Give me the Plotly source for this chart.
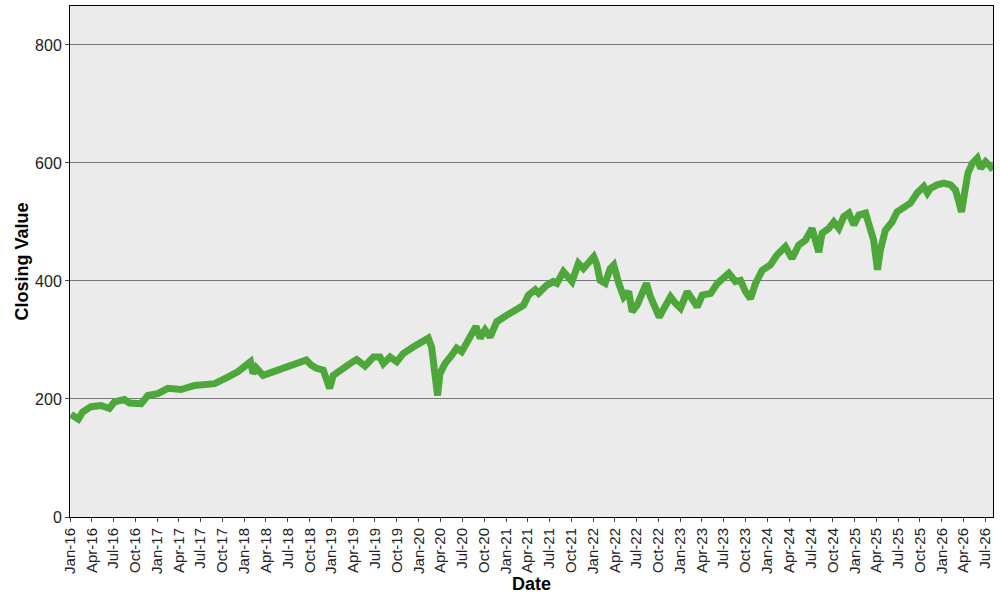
import plotly.graph_objects as go

# closing values
dates = [
    "2016-01-05", "2016-02-05", "2016-02-23", "2016-03-29", "2016-05-10", "2016-06-14",
    "2016-07-05", "2016-08-16", "2016-09-06", "2016-10-25", "2016-11-22", "2017-01-03",
    "2017-02-14", "2017-04-10", "2017-06-06", "2017-07-31", "2017-08-29", "2017-10-23",
    "2017-12-04", "2018-01-26", "2018-02-06", "2018-02-19", "2018-03-20", "2018-04-30",
    "2018-06-11", "2018-07-23", "2018-09-17", "2018-10-09", "2018-10-30", "2018-11-27",
    "2018-12-11", "2018-12-24", "2019-01-08", "2019-02-05", "2019-03-19", "2019-04-16",
    "2019-05-21", "2019-06-25", "2019-07-23", "2019-08-06", "2019-09-03", "2019-10-01",
    "2019-10-28", "2019-12-09", "2020-01-06", "2020-02-10", "2020-02-24", "2020-03-05",
    "2020-03-20", "2020-03-30", "2020-04-20", "2020-05-18", "2020-06-08", "2020-06-29",
    "2020-08-03", "2020-08-28", "2020-09-14", "2020-10-05", "2020-10-26", "2020-11-23",
    "2021-01-04", "2021-02-15", "2021-03-15", "2021-04-05", "2021-05-03", "2021-05-17",
    "2021-06-21", "2021-07-18", "2021-08-02", "2021-08-29", "2021-10-04", "2021-10-31",
    "2021-11-21", "2022-01-03", "2022-01-16", "2022-01-30", "2022-02-20", "2022-03-13",
    "2022-03-28", "2022-04-18", "2022-05-09", "2022-05-30", "2022-06-13", "2022-07-04",
    "2022-07-25", "2022-08-12", "2022-08-29", "2022-09-19", "2022-10-05", "2022-10-17",
    "2022-11-21", "2022-12-12", "2023-01-02", "2023-01-30", "2023-02-20", "2023-03-13",
    "2023-04-03", "2023-05-08", "2023-06-05", "2023-07-02", "2023-07-23", "2023-08-20",
    "2023-09-10", "2023-10-01", "2023-10-22", "2023-11-12", "2023-12-10", "2024-01-13",
    "2024-02-10", "2024-03-16", "2024-04-13", "2024-05-11", "2024-06-08", "2024-07-06",
    "2024-07-20", "2024-08-03", "2024-08-17", "2024-09-14", "2024-10-05", "2024-10-26",
    "2024-11-16", "2024-12-07", "2024-12-28", "2025-01-18", "2025-02-15", "2025-03-08",
    "2025-03-21", "2025-04-06", "2025-04-18", "2025-05-09", "2025-06-06", "2025-06-27",
    "2025-07-25", "2025-08-22", "2025-09-19", "2025-10-17", "2025-11-01", "2025-11-14",
    "2025-12-12", "2026-01-09", "2026-02-06", "2026-02-27", "2026-03-13", "2026-03-24",
    "2026-04-06", "2026-04-20", "2026-05-08", "2026-05-29", "2026-06-12", "2026-07-03",
    "2026-07-24", "2026-08-03",
]
closing = [
    174, 166, 178, 187, 189, 184,
    195, 199, 193, 192, 206, 209,
    218, 216, 223, 226, 226, 237,
    246, 263, 243, 253, 240, 246,
    252, 257, 266, 257, 252, 249,
    235, 218, 240, 249, 260, 267,
    256, 271, 271, 260, 271, 263,
    277, 288, 294, 303, 288, 243,
    206, 243, 260, 274, 286, 280,
    305, 323, 303, 317, 305, 331,
    342, 353, 359, 376, 385, 379,
    393, 399, 396, 416, 399, 430,
    421, 441, 428, 401, 396, 421,
    427, 396, 373, 382, 348, 359,
    382, 396, 373, 356, 339, 348,
    373, 362, 354, 382, 370, 356,
    376, 379, 396, 407, 413, 399,
    401, 382, 370, 396, 418, 427,
    444, 458, 438, 461, 469, 489,
    469, 449, 481, 489, 500, 489,
    509, 515, 495, 512, 515, 486,
    469, 419, 452, 486, 500, 517,
    523, 532, 549, 560, 549, 557,
    563, 566, 563, 554, 534, 517,
    549, 583, 599, 608, 591, 602,
    594, 588,
]

y_ticks = [0, 200, 400, 600, 800]

fig = go.Figure()
fig.add_trace(
    go.Scatter(
        x=dates,
        y=closing,
        mode="lines",
        line=dict(color="#4ea73a", width=7),
        hovertemplate="%{x|%d %b %Y}<br>%{y}<extra></extra>",
        showlegend=False,
    )
)

font_family = "Liberation Sans, Arial, sans-serif"
title_font = dict(family=font_family, size=18, color="#000")

fig.update_layout(
    width=1000,
    height=600,
    margin=dict(l=70, r=7, t=6, b=83),
    paper_bgcolor="white",
    plot_bgcolor="#ebebeb",
    xaxis=dict(
        title=dict(text="<b>Date</b>", font=title_font, standoff=3),
        type="date",
        range=["2016-01-01", "2026-08-03"],
        dtick="M3",
        tick0="2016-01-01",
        tickformat="%b-%y",
        tickangle=-90,
        tickfont=dict(family=font_family, size=15, color="#222"),
        ticks="outside",
        ticklen=4,
        tickcolor="#444",
        showgrid=False,
        showline=True,
        linecolor="#000",
        linewidth=1,
        mirror=True,
        automargin=False,
    ),
    yaxis=dict(
        title=dict(text="<b>Closing Value</b>", font=title_font, standoff=1),
        range=[0, 866],
        tickvals=y_ticks,
        tickfont=dict(family=font_family, size=16, color="#222"),
        ticks="outside",
        ticklen=4,
        tickcolor="#444",
        showgrid=True,
        gridcolor="#777",
        gridwidth=1,
        zeroline=False,
        showline=True,
        linecolor="#000",
        linewidth=1,
        mirror=True,
        automargin=False,
    ),
)

# the page's default body margin would shift the chart by 8px
fig.write_html(
    "out.html",
    config={"displayModeBar": False},
    post_script="document.body.style.margin = '0';",
)
